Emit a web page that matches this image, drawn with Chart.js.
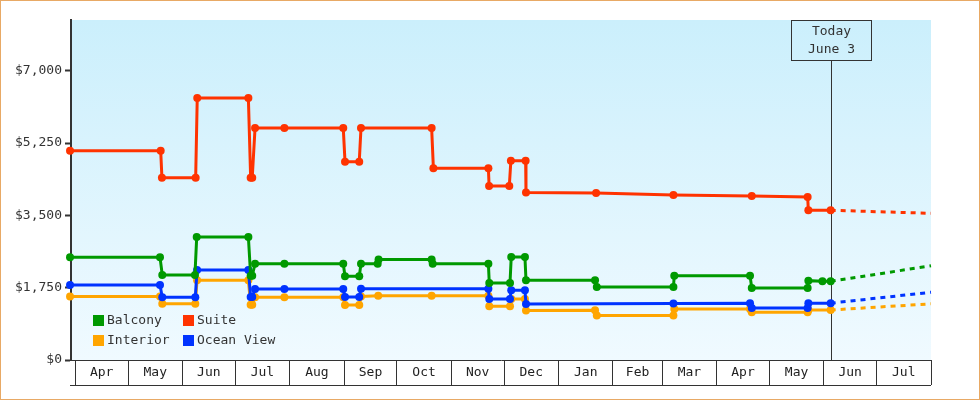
<!DOCTYPE html>
<html>
<head>
<meta charset="utf-8">
<script src="https://cdn.jsdelivr.net/npm/chart.js@4.4.1/dist/chart.umd.min.js"></script>
<style>
  html, body { margin: 0; padding: 0; background: #fff; }
  #wrap { width: 980px; height: 400px; }
</style>
</head>
<body>
<div id="wrap"><canvas id="chart" width="980" height="400"></canvas></div>
<script>
// x values are days counted from Apr 1 of the first year
const monthLabels = ["Apr","May","Jun","Jul","Aug","Sep","Oct","Nov","Dec","Jan","Feb","Mar","Apr","May","Jun","Jul"];
const monthStarts = [0,30,61,91,122,153,183,214,244,275,306,334,365,395,426,456,487];
const yTicks = [0,1750,3500,5250,7000];

const balconyDays = [-3,48.2,49.5,68.1,69.1,98.5,99.8,100.7,102.3,119.0,152.5,153.5,161.6,162.6,172.1,172.6,202.8,203.4,235.1,235.6,247.4,248.1,255.9,256.5,295.8,296.8,340.4,340.9,384.0,385.0,416.8,417.2,425.2,429.9];
const balconyPrices = [2490,2490,2060,2060,2980,2980,2040,2040,2330,2330,2330,2025,2025,2330,2330,2430,2430,2330,2330,1865,1865,2495,2495,1930,1930,1765,1765,2040,2040,1745,1745,1920,1905,1905];

const suiteDays = [-3,48.6,49.3,68.5,69.4,98.5,99.8,100.7,102.3,119.0,152.5,153.5,161.6,162.6,202.8,203.8,235.1,235.5,247.0,247.9,256.3,256.5,296.4,340.4,385.0,416.8,417.2,429.9];
const suitePrices = [5065,5065,4410,4410,6340,6340,4410,4410,5615,5615,5615,4800,4800,5615,5615,4640,4640,4210,4210,4825,4825,4055,4045,3995,3970,3945,3625,3625];

const interiorDays = [-3,48.2,49.5,68.3,69.3,98.5,99.8,100.7,102.3,119.0,152.5,153.5,161.6,162.6,172.4,202.8,235.1,235.6,247.4,248.1,255.9,256.5,295.8,296.8,340.4,340.9,384.0,385.0,416.8,417.2,429.9];
const interiorPrices = [1540,1540,1360,1360,1930,1930,1340,1340,1520,1520,1520,1330,1330,1540,1555,1555,1555,1300,1300,1475,1475,1200,1205,1080,1080,1235,1235,1155,1155,1210,1210];

const oceanDays = [-3,48.2,49.5,68.3,69.3,98.5,99.8,100.7,102.3,119.0,152.5,153.5,161.6,162.6,235.1,235.6,247.4,248.1,255.9,256.5,340.4,384.0,385.0,416.8,417.2,429.9];
const oceanPrices = [1815,1815,1520,1520,2180,2180,1525,1525,1720,1720,1720,1525,1525,1725,1725,1475,1475,1690,1690,1355,1370,1375,1260,1260,1375,1375];

// dashed projections after today
const projectionDays = [429.9, 487];
const balconyProjection = [1905, 2280];
const suiteProjection = [3625, 3550];
const interiorProjection = [1210, 1360];
const oceanProjection = [1375, 1640];

const todayDay = 429.9;
const todayText = ["Today", "June 3"];

const seriesNames = ["Balcony", "Suite", "Interior", "Ocean View"];
const seriesColors = ["#009900", "#ff3300", "#ffa500", "#0033ff"];

const FONT = '13px "DejaVu Sans Mono", monospace';
Chart.defaults.font.family = '"DejaVu Sans Mono", monospace';
Chart.defaults.font.size = 13;
Chart.defaults.color = "#333";

function pts(days, vals) {
  return days.map((d, i) => ({ x: d, y: vals[i] }));
}

function lineSet(name, color, days, vals, order) {
  return {
    label: name,
    data: pts(days, vals),
    borderColor: color,
    backgroundColor: color,
    borderWidth: 3,
    pointRadius: 4,
    pointBorderWidth: 0,
    pointBackgroundColor: color,
    tension: 0,
    clip: false,
    order: order
  };
}

function projSet(color, vals) {
  return {
    label: "",
    data: pts(projectionDays, vals),
    borderColor: color,
    borderWidth: 3,
    borderDash: [5, 5],
    pointRadius: 0,
    tension: 0,
    clip: false,
    order: 10
  };
}

const decor = {
  id: "decor",
  beforeDraw(chart) {
    const { ctx, chartArea: a } = chart;
    ctx.save();
    ctx.fillStyle = "#fff";
    ctx.fillRect(0, 0, chart.width, chart.height);
    const g = ctx.createLinearGradient(0, a.top, 0, a.bottom);
    g.addColorStop(0, "#cbeffc");
    g.addColorStop(1, "#f0faff");
    ctx.fillStyle = g;
    ctx.fillRect(a.left, a.top, a.right - a.left, a.bottom - a.top);
    ctx.strokeStyle = "#e8a965";
    ctx.lineWidth = 1;
    ctx.strokeRect(0.5, 0.5, chart.width - 1, chart.height - 1);
    ctx.restore();
  },
  beforeDatasetsDraw(chart) {
    const { ctx, chartArea: a, scales: { x } } = chart;
    const tx = Math.round(x.getPixelForValue(todayDay)) + 0.5;
    ctx.save();
    ctx.strokeStyle = "#333";
    ctx.lineWidth = 1;
    ctx.beginPath();
    ctx.moveTo(tx, a.top + 40);
    ctx.lineTo(tx, a.bottom);
    ctx.stroke();
    ctx.strokeRect(tx - 40, a.top + 0.5, 80, 40);
    ctx.fillStyle = "#333";
    ctx.font = FONT;
    ctx.textAlign = "center";
    ctx.textBaseline = "middle";
    ctx.fillText(todayText[0], tx, a.top + 12);
    ctx.fillText(todayText[1], tx, a.top + 30);
    ctx.restore();
  },
  afterDraw(chart) {
    const { ctx, chartArea: a, scales: { x } } = chart;
    ctx.save();
    // month row
    ctx.strokeStyle = "#333";
    ctx.lineWidth = 1;
    ctx.beginPath();
    ctx.moveTo(a.left - 1, a.bottom + 25.5);
    ctx.lineTo(a.right, a.bottom + 25.5);
    ctx.stroke();
    ctx.fillStyle = "#222";
    ctx.font = FONT;
    ctx.textAlign = "center";
    ctx.textBaseline = "middle";
    monthLabels.forEach((m, i) => {
      const x0 = x.getPixelForValue(monthStarts[i]);
      const x1 = Math.min(x.getPixelForValue(monthStarts[i + 1]), a.right);
      ctx.fillText(m, (x0 + x1) / 2, a.bottom + 13);
    });
    // legend, two columns
    ctx.textAlign = "left";
    seriesNames.forEach((name, i) => {
      const bx = a.left + 22 + (i % 2) * 90;
      const by = a.bottom - 45 + Math.floor(i / 2) * 20;
      ctx.fillStyle = seriesColors[i];
      ctx.fillRect(bx, by, 11, 11);
      ctx.fillStyle = "#333";
      ctx.fillText(name, bx + 14, by + 6);
    });
    ctx.restore();
  }
};

new Chart(document.getElementById("chart"), {
  type: "line",
  data: {
    datasets: [
      lineSet(seriesNames[0], seriesColors[0], balconyDays, balconyPrices, 0),
      lineSet(seriesNames[1], seriesColors[1], suiteDays, suitePrices, 1),
      lineSet(seriesNames[3], seriesColors[3], oceanDays, oceanPrices, 2),
      lineSet(seriesNames[2], seriesColors[2], interiorDays, interiorPrices, 3),
      projSet(seriesColors[0], balconyProjection),
      projSet(seriesColors[1], suiteProjection),
      projSet(seriesColors[3], oceanProjection),
      projSet(seriesColors[2], interiorProjection)
    ]
  },
  options: {
    responsive: false,
    animation: false,
    layout: { padding: { left: 14, top: 20, right: 49, bottom: 15 } },
    plugins: { legend: { display: false }, tooltip: { enabled: false } },
    scales: {
      x: {
        type: "linear",
        min: -2.447,
        max: 487,
        afterBuildTicks: s => { s.ticks = monthStarts.map(v => ({ value: v })); },
        afterFit: s => { s.height = 25; },
        grid: { drawOnChartArea: false, tickLength: 25, color: "#333", lineWidth: 1 },
        border: { color: "#333", width: 1 },
        ticks: { display: false }
      },
      y: {
        min: 0,
        max: 8230,
        afterBuildTicks: s => { s.ticks = yTicks.map(v => ({ value: v })); },
        afterFit: s => { s.width = 57; },
        grid: { drawOnChartArea: false, tickLength: 6, tickWidth: 2, tickColor: "#333" },
        border: { color: "#333", width: 2 },
        ticks: {
          padding: 3,
          color: "#333",
          callback: v => "$" + v.toLocaleString("en-US")
        }
      }
    }
  },
  plugins: [decor]
});
</script>
</body>
</html>
